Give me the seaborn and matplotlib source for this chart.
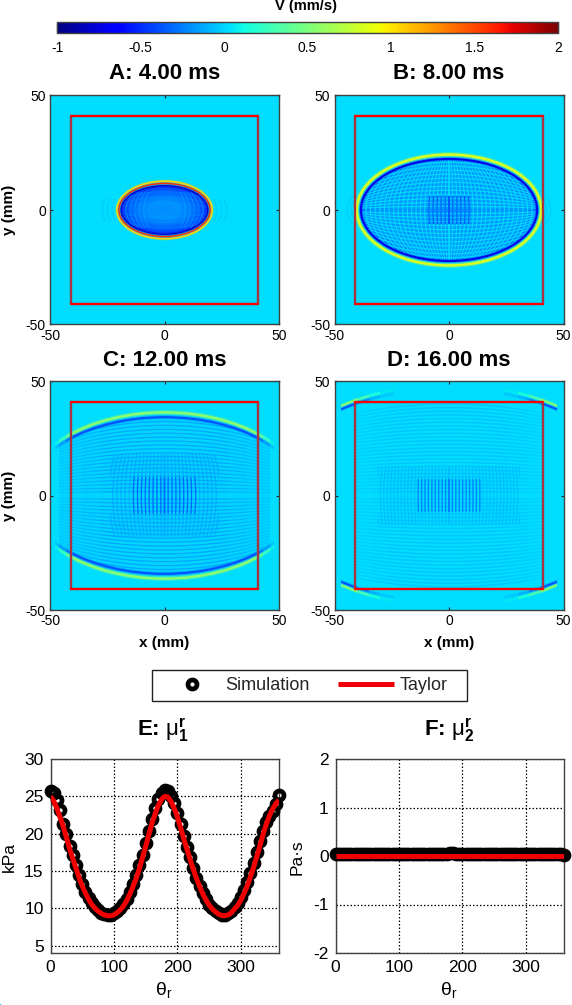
import seaborn as sns
import pandas as pd
import matplotlib
matplotlib.use("Agg")
import matplotlib.pyplot as plt
from matplotlib.patches import Ellipse, Rectangle
from matplotlib.transforms import Bbox, TransformedBbox

W, H = 572, 1005

sns.set_theme(style="white")
plt.rcParams["font.family"] = ["Liberation Sans", "DejaVu Sans"]
plt.rcParams["mathtext.fontset"] = "custom"
plt.rcParams["mathtext.rm"] = "Liberation Sans"
plt.rcParams["mathtext.it"] = "Liberation Sans:bold"
plt.rcParams["mathtext.bf"] = "Liberation Sans:bold"
plt.rcParams["axes.unicode_minus"] = False

# colour scale
V_MIN, V_MAX = -1, 2
V_TICKS = [-1, -0.5, 0, 0.5, 1, 1.5, 2]
V_LABELS = ["-1", "-0.5", "0", "0.5", "1", "1.5", "2"]

# field outside of the wave front (mm/s)
FIELD_REST = [[0.03, 0.03], [0.03, 0.03]]

PANEL_TITLES = ["A: 4.00 ms", "B: 8.00 ms", "C: 12.00 ms", "D: 16.00 ms"]
MM_TICKS = [-50, 0, 50]

# red square (mm)
BOX_X = [-41, 41, 41, -41, -41]
BOX_Y = [-41, -41, 41, 41, -41]

# wave fronts: semi axis x, semi axis y, velocity, width
FRONTS_A = [(20.8, 12.6, 1.05, 1.1), (19.9, 11.6, 1.6, 0.9), (18.9, 10.6, -0.8, 1.0)]
FRONTS_B = [(40.3, 24.2, 0.85, 1.8), (38.5, 22.3, -0.72, 1.4)]
FRONTS_C = [(60.5, 36.3, 0.55, 1.8), (60.0, 34.2, -0.38, 1.5)]
FRONTS_D = [(80.5, 48.3, 0.55, 1.4), (80.0, 46.6, -0.4, 1.3)]

# where each front is seen in x, and how strong there
BANDS_A = [(-30, 30, 1.0)]
BANDS_B = [(-45, 45, 1.0)]
BANDS_C = [(-40, 40, 1.0), (40, 43, 0.75), (43, 46, 0.45), (46, 48, 0.15)]
BANDS_D = [(24, 30, 0.12), (30, 35, 0.3), (35, 40, 0.6), (40, 47, 1.0)]

# nested areas behind the front: semi axis x, semi axis y, velocity
INSIDE_A = [(18.6, 10.4, -0.46), (17.5, 9.7, -0.4), (16.0, 8.8, -0.35), (14.5, 7.9, -0.31), (12.5, 6.8, -0.27),
            (10.5, 5.7, -0.23), (8.0, 4.3, -0.2)]
INSIDE_B = [(38.0, 22.0, -0.3), (36.5, 21.0, -0.25), (34.5, 19.6, -0.21), (32.0, 18.0, -0.18)]
INSIDE_C = [(60.0, 33.8, 0.0)]
INSIDE_D = [(80.0, 46.0, 0.02)]

# ripple positions across x and y (mm)
RIPPLE_X_A = [9.0, 11.0, 13.0, 15.0, 16.8]
RIPPLE_Y_A = [3.0, 5.5, 8.0]
RIPPLE_X_B = [0.1, 1.7, 3.5, 5.2, 7.0, 8.8, 10.6, 12.5, 14.4, 16.3, 18.2, 20.2, 22.2, 24.2, 26.2, 28.2, 30.2, 32.3, 34.3, 36.3]
RIPPLE_Y_B = [1.6, 3.3, 5.0, 6.8, 8.6, 10.3, 12.1, 13.9, 15.6, 17.4, 19.2, 20.9]
RIPPLE_X_C = [0.1, 1.6, 3.3, 5.0, 6.7, 8.4, 10.1, 11.8, 13.6, 15.4, 17.2, 19.0, 20.8, 22.6, 24.4]
RIPPLE_Y_C = [1.7, 3.4, 5.1, 6.8, 8.5, 10.2, 11.9, 13.6, 15.3, 17.0, 18.7, 20.4, 22.1, 23.8, 25.5, 27.2, 28.9, 30.6, 32.3]
RIPPLE_X_D = [0.1, 1.5, 3.0, 4.5, 6.0, 7.5, 9.0, 10.5, 12.0, 13.5, 15.0, 16.5, 18.0, 19.5, 21.0, 22.5, 24.0, 25.5, 27.0, 28.5, 30.0, 31.5]
RIPPLE_Y_D = [1.6, 3.2, 4.8, 6.4, 8.0, 9.6, 11.2, 12.8, 14.4, 16.0, 17.6, 19.2, 20.8, 22.4, 24.0, 25.6, 27.2, 28.8, 30.4, 32.0, 33.6, 35.2, 36.8, 38.4, 40.0]

# ripple look: velocity across x, strength, half size of their patch,
# velocity across y, strength by distance from the middle
LOOK_A = (-0.1, 0.45, (18, 8), -0.1, [(30, 0.2)])
LOOK_B = (0.02, 0.85, (45, 45), 0.02, [(45, 0.85)])
LOOK_C = (-0.15, 0.75, (24, 18), -0.15, [(28, 0.85), (36, 0.65), (42, 0.45), (46, 0.3)])
LOOK_D = (-0.1, 0.65, (31, 13), -0.09, [(26, 0.65), (34, 0.5), (41, 0.35)])

# dark lines at the centre: half width and height of the patch (mm), velocity
CORE_B = (9, 6, -0.5)
CORE_C = (15, 8, -0.4)
CORE_D = (15, 7, -0.32)

# faint ripples outside of the front on both sides: semi axes x, half height of patch
OUTSIDE_A = ([22.8, 25.0, 27.2], 5)
OUTSIDE_B = ([42.6, 44.5], 6)

# lower panels
THETA = [0, 5, 10, 15, 20, 25, 30, 35, 40, 45, 50, 55, 60, 65, 70, 75, 80, 85, 90,
         95, 100, 105, 110, 115, 120, 125, 130, 135, 140, 145, 150, 155, 160, 165, 170, 175, 180,
         185, 190, 195, 200, 205, 210, 215, 220, 225, 230, 235, 240, 245, 250, 255, 260, 265, 270,
         275, 280, 285, 290, 295, 300, 305, 310, 315, 320, 325, 330, 335, 340, 345, 350, 355, 360]
MU1_SIM = [25.7, 25.4, 24.5, 23.1, 21.3, 19.9, 18.4, 17.1, 15.8, 14.5, 13.3, 12.2, 11.4, 10.7, 10.1, 9.7, 9.4, 9.2, 9.1,
           9.1, 9.3, 9.6, 10.0, 10.6, 11.3, 12.2, 13.3, 14.4, 15.8, 17.2, 18.8, 20.4, 22.0, 23.4, 24.6, 25.4, 25.8,
           25.7, 25.1, 24.1, 22.8, 21.3, 19.7, 18.2, 16.8, 15.4, 14.1, 13.0, 12.0, 11.2, 10.5, 10.0, 9.6, 9.3, 9.1,
           9.1, 9.3, 9.6, 10.1, 10.7, 11.5, 12.4, 13.5, 14.7, 16.0, 17.5, 19.0, 20.4, 21.5, 22.3, 23.0, 24.0, 25.2]
MU1_TAYLOR = [25.0, 24.4, 23.4, 22.2, 21.0, 19.5, 18.0, 16.7, 15.4, 14.1, 13.0, 12.0, 11.2, 10.5, 10.0, 9.6, 9.3, 9.1, 9.0,
              9.0, 9.1, 9.4, 9.8, 10.3, 11.0, 11.9, 12.9, 14.0, 15.3, 16.8, 18.3, 19.9, 21.4, 22.7, 23.8, 24.6, 25.0,
              24.9, 24.3, 23.4, 22.2, 20.8, 19.3, 17.9, 16.5, 15.2, 14.0, 12.9, 11.9, 11.1, 10.4, 9.9, 9.5, 9.2, 9.0,
              9.0, 9.1, 9.4, 9.9, 10.4, 11.1, 12.0, 13.0, 14.2, 15.5, 16.9, 18.4, 19.9, 21.3, 22.4, 23.3, 24.0, 24.5]
MU2_SIM = [0.05, 0.05, 0.04, 0.04, 0.04, 0.04, 0.04, 0.04, 0.04, 0.04, 0.04, 0.04, 0.04, 0.04, 0.04, 0.04, 0.04, 0.04, 0.04,
           0.04, 0.04, 0.04, 0.04, 0.04, 0.04, 0.04, 0.04, 0.04, 0.04, 0.04, 0.04, 0.04, 0.04, 0.04, 0.04, 0.05, 0.07,
           0.07, 0.05, 0.04, 0.04, 0.04, 0.04, 0.04, 0.04, 0.04, 0.04, 0.04, 0.04, 0.04, 0.04, 0.04, 0.04, 0.04, 0.04,
           0.04, 0.04, 0.04, 0.04, 0.04, 0.04, 0.04, 0.04, 0.04, 0.04, 0.04, 0.04, 0.04, 0.04, 0.04, 0.04, 0.04, 0.03]
MU2_TAYLOR = [0.0] * 73

THETA_TICKS = [0, 100, 200, 300]
E_TICKS = [5, 10, 15, 20, 25, 30]
F_TICKS = [-2, -1, 0, 1, 2]
F_LABELS = ["-2", "-1", "0", "1", "2"]

cmap = plt.get_cmap("jet")
norm = plt.Normalize(V_MIN, V_MAX)
EDGE = "#404040"


def box(x0, y0, x1, y1):
    return [x0 / W, 1 - y1 / H, (x1 - x0) / W, (y1 - y0) / H]


def label(x, y, s, **kw):
    fig.text(x / W, 1 - y / H, s, ha="center", va="center", color="black", **kw)


def limit(ax, artist, x0, x1, y0, y1):
    artist.set_clip_box(TransformedBbox(Bbox([[x0, y0], [x1, y1]]), ax.transData))


def ring(ax, a, b, value, lw, clip=None, patch=None, alpha=1.0):
    e = Ellipse((0, 0), 2 * a, 2 * b, fill=False, ec=cmap(norm(value)), lw=lw, alpha=alpha)
    ax.add_patch(e)
    if clip is not None:
        e.set_clip_path(clip)
    if patch is not None:
        limit(ax, e, *patch)
    return e


def panel(pos, bands, fronts, inside, xs, ys, look, core=None, xlim=50, outside=None):
    under = fig.add_axes(pos)
    sns.heatmap(FIELD_REST, ax=under, cmap="jet", vmin=V_MIN, vmax=V_MAX, cbar=False,
                xticklabels=False, yticklabels=False)
    under.set_axis_off()

    ax = fig.add_axes(pos)
    ax.patch.set_visible(False)
    ax.set_xlim(-50, 50)
    ax.set_ylim(-50, 50)

    # region behind the front
    for a, b, v in inside:
        fill = Ellipse((0, 0), 2 * a, 2 * b, fc=cmap(norm(v)), ec="none")
        ax.add_patch(fill)
        limit(ax, fill, -xlim, xlim, -50, 50)
    a, b, v0 = inside[0]
    clip = Ellipse((0, 0), 2 * a, 2 * b, transform=ax.transData)

    # agg keeps the clip mask of the first ring that uses it, so start with the whole panel
    ring(ax, 1, 1, v0, 0.1, clip=clip, patch=(-50, 50, -50, 50))

    # ripples
    wide, tall = a * 1.15, b * 1.15
    vx, strength, (px, py), vy, fade = look
    for rx in xs:
        ring(ax, rx, tall, vx, 0.85, clip=clip, patch=(-px, px, -py, py), alpha=strength)
    inner = 0
    for x1, s in fade:
        for ry in ys:
            ring(ax, wide, ry, vy, 0.95, clip=clip, patch=(inner, x1, -50, 50), alpha=s)
            ring(ax, wide, ry, vy, 0.95, clip=clip, patch=(-x1, -inner, -50, 50), alpha=s)
        inner = x1
    if core is not None:
        cx, cy, cv = core
        for rx in xs:
            if rx < cx:
                ring(ax, rx, tall, cv, 0.9, patch=(-cx, cx, -cy, cy), alpha=0.7)
    if outside is not None:
        for rx in outside[0]:
            ring(ax, rx, outside[1] * 3, -0.08, 0.8, patch=(-50, 50, -outside[1], outside[1]), alpha=0.5)

    # fronts, fading towards their ends, soft edge below each
    for fa, fb, fv, flw in fronts:
        for x0, x1, fade_by in bands:
            spans = [(x0, x1)] if x0 == -x1 else [(x0, x1), (-x1, -x0)]
            for s0, s1 in spans:
                ring(ax, fa, fb, fv * fade_by, flw * 2.0, patch=(s0, s1, -50, 50), alpha=0.3)
                ring(ax, fa, fb, fv * fade_by, flw, patch=(s0, s1, -50, 50))

    # red square
    sns.lineplot(x=BOX_X[1:3], y=BOX_Y[1:3], ax=ax, color="#a83440", lw=1.7, sort=False, estimator=None, legend=False)
    sns.lineplot(x=BOX_X[3:5], y=BOX_Y[3:5], ax=ax, color="#a83440", lw=1.7, sort=False, estimator=None, legend=False)
    sns.lineplot(x=BOX_X[0:2], y=BOX_Y[0:2], ax=ax, color="#ff0000", lw=1.7, sort=False, estimator=None, legend=False)
    sns.lineplot(x=BOX_X[2:4], y=BOX_Y[2:4], ax=ax, color="#ff0000", lw=1.7, sort=False, estimator=None, legend=False)

    ax.set_xticks(MM_TICKS)
    ax.set_yticks(MM_TICKS)
    ax.tick_params(direction="in", length=2, width=0.8, color="#222222", labelsize=10, labelcolor="black", pad=3,
                   bottom=True, left=True, top=True, right=True)
    ax.set_xlabel("")
    ax.set_ylabel("")
    for s in ax.spines.values():
        s.set_color(EDGE)
        s.set_linewidth(1.0)
    return ax


def lower(pos, sim, taylor, ylim, yticks, ylabels):
    ax = fig.add_axes(pos)
    df = pd.DataFrame({"theta": THETA, "sim": sim, "taylor": taylor})
    sns.lineplot(data=df, x="theta", y="sim", ax=ax, linestyle="", marker="o", markersize=6.5,
                 markerfacecolor="none", markeredgecolor="black", markeredgewidth=3.4,
                 estimator=None, sort=False, clip_on=False, zorder=3, legend=False)
    sns.lineplot(data=df, x="theta", y="taylor", ax=ax, color="#f00000", lw=3.6, estimator=None,
                 sort=False, zorder=4, legend=False, solid_capstyle="butt")
    ax.set_xlim(0, 360)
    ax.set_ylim(*ylim)
    ax.set_xticks(THETA_TICKS)
    ax.set_yticks(yticks)
    ax.set_yticklabels(ylabels)
    ax.grid(True, color="black", ls=(0, (1.2, 1.6)), lw=0.9)
    ax.set_axisbelow(True)
    ax.tick_params(labelsize=12.5, pad=5, length=0, labelcolor="black")
    ax.set_xlabel("")
    ax.set_ylabel("")
    for s in ax.spines.values():
        s.set_color(EDGE)
        s.set_linewidth(1.0)
    return ax


fig = plt.figure(figsize=(W / 100, H / 100), dpi=100)

# colour bar
cax = fig.add_axes(box(57, 22, 558, 33))
holder = fig.add_axes([0, 0, 0.001, 0.001])
sns.heatmap(FIELD_REST, ax=holder, cmap="jet", vmin=V_MIN, vmax=V_MAX, cbar_ax=cax,
            cbar_kws={"orientation": "horizontal"}, xticklabels=False, yticklabels=False)
holder.set_axis_off()
cbar = holder.collections[0].colorbar
cbar.set_ticks(V_TICKS)
cbar.set_ticklabels(V_LABELS)
cbar.ax.tick_params(direction="in", length=8, width=0.9, color="#111111", labelsize=10, labelcolor="black",
                    pad=6, bottom=True)
cbar.outline.set_edgecolor(EDGE)
cbar.outline.set_linewidth(1.0)
cbar.outline.set_visible(True)
label(306, 6, "V (mm/s)", fontsize=10.5, fontweight="bold")

# wave field panels
panel(box(50, 95.5, 279, 324.5), BANDS_A, FRONTS_A, INSIDE_A, RIPPLE_X_A, RIPPLE_Y_A, LOOK_A, outside=OUTSIDE_A)
panel(box(334.5, 95.5, 563.5, 324.5), BANDS_B, FRONTS_B, INSIDE_B, RIPPLE_X_B, RIPPLE_Y_B, LOOK_B, core=CORE_B,
      outside=OUTSIDE_B)
panel(box(50, 381, 279, 610), BANDS_C, FRONTS_C, INSIDE_C, RIPPLE_X_C, RIPPLE_Y_C, LOOK_C, core=CORE_C, xlim=46)
panel(box(334.5, 381, 563.5, 610), BANDS_D, FRONTS_D, INSIDE_D, RIPPLE_X_D, RIPPLE_Y_D, LOOK_D, core=CORE_D, xlim=41)

for cx, cy, t in [(164.5, 73.5, PANEL_TITLES[0]), (449, 73.5, PANEL_TITLES[1]),
                  (164.5, 360, PANEL_TITLES[2]), (449, 360, PANEL_TITLES[3])]:
    label(cx, cy, t, fontsize=16, fontweight="bold")
label(9, 210, "y (mm)", fontsize=11, fontweight="bold", rotation=90)
label(9, 495.5, "y (mm)", fontsize=11, fontweight="bold", rotation=90)
label(164.5, 643, "x (mm)", fontsize=11, fontweight="bold")
label(449, 643, "x (mm)", fontsize=11, fontweight="bold")

# lower panels
ax_e = lower(box(50.5, 759, 279, 953), MU1_SIM, MU1_TAYLOR, (4, 30), E_TICKS, [str(t) for t in E_TICKS])
ax_f = lower(box(335.5, 759, 564, 953), MU2_SIM, MU2_TAYLOR, (-2, 2), F_TICKS, F_LABELS)

label(163, 730, r"E: $\mathrm{\mu}_{\mathbf{1}}^{\mathbf{r}}$", fontsize=16, fontweight="bold")
label(449, 730, r"F: $\mathrm{\mu}_{\mathbf{2}}^{\mathbf{r}}$", fontsize=16, fontweight="bold")
label(9, 857, "kPa", fontsize=12.5, rotation=90)
label(297, 857, "Pa·s", fontsize=12.5, rotation=90)
label(164, 990, r"$\mathrm{\theta}_\mathrm{r}$", fontsize=14)
label(449, 990, r"$\mathrm{\theta}_\mathrm{r}$", fontsize=14)

# legend shared by both lower panels
fig.add_artist(Rectangle((152 / W, 1 - 701 / H), 315 / W, 31 / H, transform=fig.transFigure,
                         fill=False, ec="#222222", lw=1.0))
lines = ax_e.get_lines()
fig.legend([lines[0], lines[1]], ["Simulation", "Taylor"], ncol=2, loc="center left",
           bbox_to_anchor=(164 / W, 1 - 685.5 / H), frameon=False, fontsize=13, numpoints=1,
           handlelength=3.1, handletextpad=0.3, columnspacing=1.55, borderpad=0, borderaxespad=0)

fig.savefig("out.png", dpi=100)
